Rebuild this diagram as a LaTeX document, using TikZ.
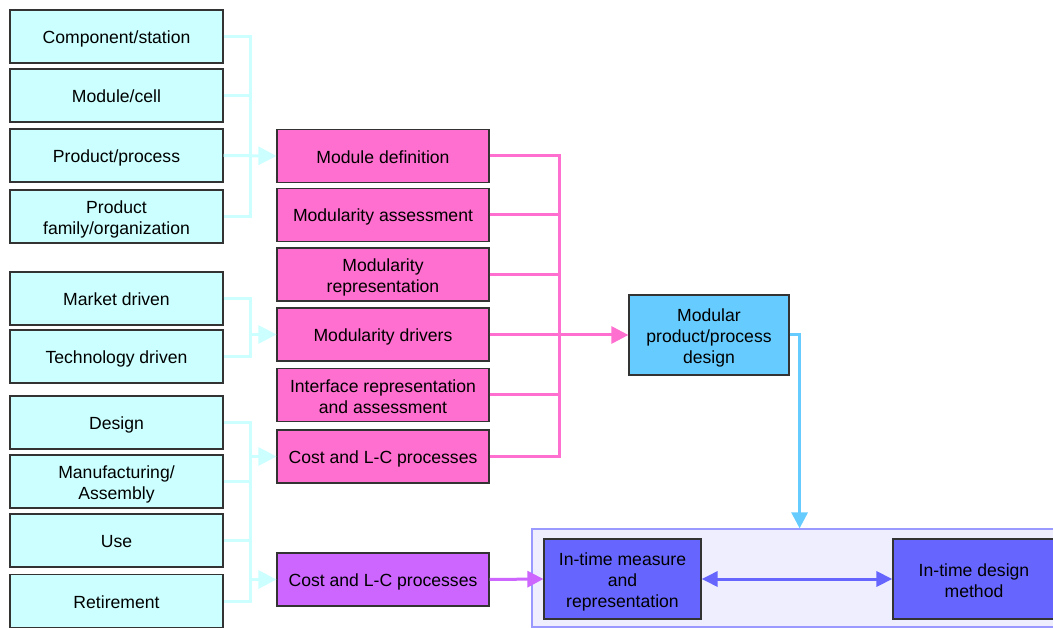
\documentclass[tikz,border=0pt]{standalone}
\usepackage{fontspec}
\setmainfont{Liberation Sans}
\usetikzlibrary{arrows.meta,calc}
\definecolor{cyanfill}{HTML}{CCFFFF}
\definecolor{cyanline}{HTML}{CCFFFF}
\definecolor{pinkc}{HTML}{FF6FCF}
\definecolor{purplec}{HTML}{CC66FF}
\definecolor{bluec}{HTML}{66CCFF}
\definecolor{violetc}{HTML}{6666FF}
\definecolor{contfill}{HTML}{EEEEFF}
\definecolor{contline}{HTML}{9999FF}
\definecolor{edge}{HTML}{333333}
\newcommand{\tstrut}{\rule{0pt}{19pt}}
\begin{document}
\begin{tikzpicture}[x=1pt,y=-1pt,
  box/.style={draw=edge,line width=1.2pt,rectangle,inner sep=2pt,align=center,
    font=\fontsize{17.6}{21}\selectfont,text=black,
    execute at begin node={\rule{0pt}{1.0em}},
    execute at end node={\rule[-0.2em]{0pt}{0pt}}},
  cbox/.style={box,fill=cyanfill,minimum width=213pt,minimum height=53pt},
  pbox/.style={box,fill=pinkc,minimum width=212pt,minimum height=53pt},
  vbox/.style={box,fill=violetc,minimum width=157pt,minimum height=80pt},
  cline/.style={draw=cyanline,line width=3pt},
  carrow/.style={cline,-{Triangle[length=18pt,width=18pt]}},
  pline/.style={draw=pinkc,line width=3pt},
  parrow/.style={pline,-{Triangle[length=17pt,width=17pt]}},
  barrow/.style={draw=bluec,line width=3pt,-{Triangle[length=16pt,width=16pt]}},
  purarrow/.style={draw=purplec,line width=3pt,-{Triangle[length=16pt,width=16pt]}},
  varrow/.style={draw=violetc,line width=3pt,{Triangle[length=16pt,width=15pt]}-{Triangle[length=16pt,width=15pt]}}
]
\useasboundingbox (0,0) rectangle (1053,628);
\clip (0,0) rectangle (1053,628);

% left cyan boxes
\node[cbox] (c1) at (116.5,36.5) {Component/station};
\node[cbox] (c2) at (116.5,95.5) {Module/cell};
\node[cbox] (c3) at (116.5,155.5) {Product/process};
\node[cbox] (c4) at (116.5,216.5) {\tstrut Product\\family/organization};
\node[cbox] (c5) at (116.5,298.5) {Market driven};
\node[cbox] (c6) at (116.5,356.5) {Technology driven};
\node[cbox] (c7) at (116.5,422.5) {Design};
\node[cbox] (c8) at (116.5,481.5) {\tstrut Manufacturing/\\Assembly};
\node[cbox] (c9) at (116.5,540.5) {Use};
\node[cbox] (c10) at (116.5,601) {Retirement};

% pink boxes
\node[pbox] (p1) at (383,156) {Module definition};
\node[pbox] (p2) at (383,215) {Modularity assessment};
\node[pbox] (p3) at (383,274.5) {\tstrut Modularity\\representation};
\node[pbox] (p4) at (383,334.5) {Modularity drivers};
\node[pbox] (p5) at (383,395) {\tstrut Interface representation\\and assessment};
\node[pbox] (p6) at (383,456.5) {Cost and L-C processes};
\node[pbox,fill=purplec] (pp) at (383,579.5) {Cost and L-C processes};

% modular design
\node[box,fill=bluec,minimum width=160pt,minimum height=80pt] (m) at (709,335) {\tstrut Modular\\product/process\\design};

% container
\node[draw=contline,fill=contfill,line width=1.2pt,minimum width=528pt,minimum height=98pt,inner sep=0pt] (cont) at (796,578) {};
\node[vbox] (im) at (622.5,579) {\tstrut In-time measure\\and\\representation};
\node[vbox,minimum width=162pt] (id) at (974,579) {\tstrut In-time design\\method};

% cyan connectors group 1
\draw[cline] (c1.east) -- ++(27,0) |- (c4.east);
\draw[cline] (c2.east) -- ++(27,0);
\draw[carrow] (c3.east) -- (p1.west);
% group 2
\coordinate (j2) at ($(c5.east)+(27,0)$);
\coordinate (j2a) at (j2 |- p4.west);
\draw[cline] (c5.east) -- ++(27,0) |- (c6.east);
\draw[carrow] (j2a) -- (p4.west);
% group 3
\coordinate (j3) at ($(c7.east)+(27,0)$);
\coordinate (j3a) at (j3 |- p6.west);
\coordinate (j3b) at (j3 |- pp.west);
\draw[cline] (c7.east) -- ++(27,0) |- (c10.east);
\draw[cline] (c8.east) -- ++(27,0);
\draw[cline] (c9.east) -- ++(27,0);
\draw[carrow] (j3a) -- (p6.west);
\draw[carrow] (j3b) -- (pp.west);

% pink connectors
\coordinate (k) at ($(p1.east)+(70,0)$);
\coordinate (ka) at (k |- m.west);
\draw[pline] (p1.east) -- ++(70,0) |- (p6.east);
\draw[pline] (p2.east) -- ++(70,0);
\draw[pline] (p3.east) -- ++(70,0);
\draw[pline] (p4.east) -- ++(70,0);
\draw[pline] (p5.east) -- ++(70,0);
\draw[parrow] (ka) -- (m.west);

% blue connector
\coordinate (bk) at ($(m.east)+(10,0)$);
\draw[barrow] (m.east) -- (bk) -- (bk |- cont.north);

% purple and violet
\draw[purarrow] (pp.east) -- (im.west);
\draw[varrow] (im.east) -- (id.west);
\end{tikzpicture}
\end{document}
